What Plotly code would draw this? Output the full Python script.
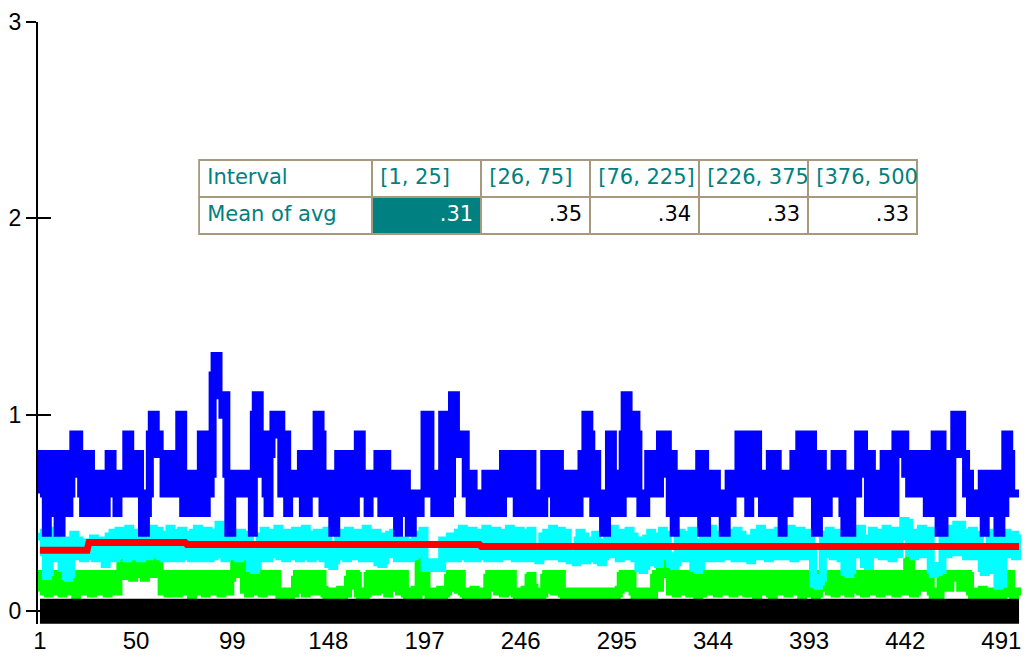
import plotly.graph_objects as go

# running values per sample (1..500)
avg_blue = [
    .6, .8, .7, .4, .5, .8, .7, .6, .8, .4,
    .4, .6, .8, .7, .5, .6, .8, .9, .8, .9,
    .7, .6, .5, .7, .8, .8, .6, .5, .5, .6,
    .7, .6, .7, .5, .6, .8, .8, .7, .6, .5,
    .6, .7, .7, .6, .9, .9, .8, .6, .7, .8,
    .8, .6, .4, .4, .5, .6, .9, 1.0, 1.0, .8,
    .9, .8, .8, .6, .7, .8, .6, .8, .7, .6,
    .7, 1.0, 1.0, .5, .7, .6, .5, .7, .6, .5,
    .6, .7, .9, .9, .5, .7, .6, .7, 1.2, 1.3,
    1.3, 1.1, 1.1, 1.0, 1.1, .7, .4, .4, .6, .7,
    .7, .6, .7, .6, .7, .6, .7, .6, .4, 1.0,
    1.1, 1.1, .7, .9, .8, .6, .5, .8, .9, 1.0,
    1.0, .9, 1.0, .6, .9, .9, .5, .7, .6, .7,
    .6, .7, .6, .8, .5, .8, .5, .8, .6, .6,
    .6, 1.0, 1.0, .9, .5, .7, .5, .7, .6, .4,
    .4, .6, .8, .5, .8, .7, .5, .8, .6, .8,
    .5, .8, .9, .9, .7, .6, .7, .5, .7, .6,
    .7, .6, .8, .8, .5, .8, .8, .6, .7, .5,
    .7, .6, .4, .6, .7, .6, .7, .5, .4, .4,
    .6, .5, .6, .5, .6, .6, 1.0, .9, 1.0, .6,
    .7, .5, .7, .6, .5, 1.0, .9, 1.0, .5, .6,
    1.1, 1.1, .8, .9, .9, .8, .9, .6, .7, .5,
    .7, .6, .5, .6, .5, .6, .5, .7, .6, .7,
    .5, .7, .6, .7, .6, .5, .8, .6, .8, .7,
    .8, .6, .8, .5, .8, .7, .8, .5, .8, .6,
    .8, .6, .5, .6, .5, .6, .5, .8, .6, .8,
    .6, .7, .5, .8, .8, .6, .7, .5, .7, .6,
    .7, .5, .7, .6, .5, .7, .8, .6, 1.0, 1.0,
    .9, .8, .5, .8, .6, .5, .6, .4, .4, .6,
    .9, .9, .7, .5, .7, .6, .5, .9, 1.1, 1.1,
    .8, .6, 1.0, 1.0, .9, .6, .5, .6, .5, .6,
    .8, .7, .8, .6, .8, .6, .9, .7, .9, .9,
    .8, .5, .8, .4, .7, .5, .7, .6, .5, .7,
    .6, .5, .7, .5, .6, .7, .8, .4, .8, .4,
    .6, .5, .7, .6, .7, .5, .6, .5, .4, .4,
    .6, .7, .5, .7, .6, .7, .9, .8, .9, .6,
    .7, .5, .7, .9, .9, .9, .6, .7, .5, .7,
    .6, .7, .8, .5, .8, .8, .5, .7, .4, .6,
    .7, .5, .7, .6, .8, .6, .8, .9, .9, .6,
    .8, .6, .9, .9, .8, .4, .4, .8, .8, .6,
    .7, .5, .7, .6, .7, .8, .8, .6, .8, .5,
    .4, .7, .4, .4, .6, .7, .6, .9, .9, .9,
    .7, .8, .5, .8, .6, .7, .5, .7, .6, .7,
    .8, .5, .8, .6, .7, .5, .9, .9, .9, .8,
    .9, .7, .8, .6, .8, .7, .6, .7, .8, .8,
    .8, .6, .5, .7, .5, .8, .9, .9, .4, .9,
    .4, .8, .6, .8, .5, .8, 1.0, 1.0, .9, 1.0,
    .8, .8, .6, .7, .5, .6, .5, .6, .6, .5,
    .7, .4, .7, .6, .5, .6, .7, .7, .4, .4,
    .6, .5, .9, .9, .8, .6, .6, .6, .6, .6,
]

avg_cyan = [
    .40, .38, .30, .18, .20, .36, .41, .29, .38, .27,
    .30, .22, .36, .18, .17, .19, .33, .39, .28, .36,
    .31, .35, .27, .34, .28, .35, .29, .37, .27, .35,
    .30, .36, .28, .24, .33, .38, .29, .40, .27, .37,
    .41, .29, .40, .30, .27, .42, .37, .28, .40, .31,
    .38, .27, .41, .30, .40, .28, .38, .42, .29, .39,
    .41, .28, .37, .27, .39, .30, .42, .27, .36, .40,
    .38, .27, .41, .31, .28, .39, .30, .27, .40, .29,
    .42, .30, .27, .39, .29, .41, .27, .37, .28, .40,
    .36, .44, .29, .38, .27, .40, .30, .28, .39, .29,
    .37, .27, .40, .30, .39, .28, .36, .22, .24, .21,
    .23, .30, .38, .27, .41, .31, .27, .39, .29, .40,
    .36, .42, .28, .38, .30, .27, .40, .29, .38, .28,
    .41, .30, .27, .39, .29, .42, .28, .37, .27, .39,
    .31, .40, .28, .38, .27, .36, .41, .24, .25, .23,
    .26, .30, .39, .28, .40, .31, .27, .41, .30, .28,
    .39, .28, .40, .30, .27, .38, .42, .29, .37, .27,
    .36, .40, .25, .27, .24, .26, .38, .29, .39, .30,
    .40, .29, .27, .28, .27, .36, .28, .33, .27, .35,
    .28, .37, .29, .39, .30, .41, .22, .24, .23, .22,
    .25, .22, .24, .23, .22, .36, .28, .33, .27, .38,
    .28, .35, .27, .40, .30, .42, .28, .39, .27, .37,
    .41, .29, .27, .38, .30, .40, .28, .42, .27, .37,
    .39, .28, .41, .27, .37, .30, .40, .28, .38, .42,
    .29, .39, .27, .36, .41, .30, .38, .27, .40, .31,
    .41, .29, .27, .29, .26, .28, .38, .30, .40, .28,
    .37, .42, .28, .39, .30, .41, .27, .36, .40, .29,
    .26, .28, .27, .25, .36, .40, .29, .38, .26, .28,
    .27, .36, .29, .39, .26, .27, .25, .28, .35, .40,
    .29, .38, .42, .30, .37, .27, .40, .31, .39, .28,
    .41, .29, .38, .27, .36, .22, .24, .21, .23, .37,
    .29, .40, .36, .25, .27, .24, .38, .41, .30, .39,
    .28, .24, .26, .23, .25, .37, .40, .29, .38, .27,
    .39, .30, .41, .22, .24, .21, .23, .35, .40, .29,
    .38, .27, .42, .31, .28, .39, .27, .37, .41, .30,
    .28, .40, .31, .38, .27, .41, .30, .39, .27, .37,
    .27, .29, .26, .28, .40, .30, .38, .42, .28, .39,
    .36, .27, .40, .29, .38, .28, .41, .37, .30, .39,
    .28, .38, .42, .30, .27, .39, .29, .41, .37, .28,
    .40, .28, .38, .30, .14, .16, .13, .15, .17, .36,
    .39, .29, .41, .37, .28, .40, .30, .38, .27, .36,
    .20, .23, .19, .21, .36, .40, .29, .38, .42, .30,
    .24, .26, .23, .37, .41, .29, .39, .30, .40, .28,
    .38, .42, .30, .39, .27, .37, .41, .29, .38, .40,
    .46, .44, .45, .30, .39, .28, .40, .30, .38, .42,
    .29, .39, .31, .41, .21, .19, .22, .20, .23, .21,
    .37, .40, .29, .38, .42, .30, .39, .44, .43, .44,
    .30, .40, .28, .38, .29, .41, .37, .28, .39, .30,
    .22, .20, .23, .21, .38, .29, .40, .30, .13, .15,
    .14, .36, .40, .29, .38, .30, .39, .28, .37, .35,
]

avg_green = [
    .10, .19, .12, .18, .09, .16, .19, .11, .17, .10,
    .18, .09, .15, .19, .10, .17, .12, .19, .08, .16,
    .19, .11, .18, .10, .16, .19, .09, .17, .12, .19,
    .10, .18, .15, .19, .09, .17, .11, .19, .16, .10,
    .19, .24, .18, .25, .21, .19, .25, .17, .24, .20,
    .25, .19, .23, .17, .25, .21, .24, .19, .26, .27,
    .27, .19, .10, .17, .19, .09, .16, .18, .11, .19,
    .09, .18, .12, .19, .10, .16, .19, .08, .17, .11,
    .19, .10, .17, .19, .09, .15, .19, .11, .18, .10,
    .16, .19, .09, .18, .12, .19, .10, .17, .19, .26,
    .27, .25, .26, .19, .11, .18, .09, .17, .19, .10,
    .18, .12, .19, .09, .16, .19, .11, .18, .10, .17,
    .19, .10, .08, .09, .08, .10, .09, .08, .10, .09,
    .16, .19, .11, .18, .19, .09, .17, .19, .12, .18,
    .10, .19, .16, .19, .11, .09, .08, .10, .08, .09,
    .10, .08, .09, .11, .08, .10, .09, .16, .19, .13,
    .19, .18, .09, .08, .10, .08, .09, .18, .19, .12,
    .19, .10, .17, .19, .11, .18, .19, .09, .16, .19,
    .12, .18, .19, .10, .17, .19, .09, .08, .10, .08,
    .09, .11, .08, .26, .27, .25, .20, .10, .08, .09,
    .08, .10, .09, .08, .11, .08, .09, .10, .17, .19,
    .12, .19, .18, .11, .19, .10, .09, .08, .10, .08,
    .09, .11, .08, .10, .09, .08, .10, .08, .17, .19,
    .12, .19, .18, .10, .19, .16, .09, .19, .12, .18,
    .19, .10, .09, .08, .10, .08, .09, .11, .08, .17,
    .18, .12, .09, .08, .10, .08, .09, .17, .19, .11,
    .19, .18, .10, .19, .16, .19, .09, .08, .10, .08,
    .09, .08, .10, .08, .09, .08, .10, .08, .09, .08,
    .10, .08, .09, .08, .10, .08, .09, .08, .10, .08,
    .09, .08, .10, .08, .09, .11, .18, .19, .12, .19,
    .17, .19, .10, .08, .09, .08, .10, .08, .09, .08,
    .10, .09, .08, .17, .19, .12, .25, .27, .26, .24,
    .19, .10, .17, .19, .09, .18, .12, .19, .10, .16,
    .19, .09, .18, .11, .19, .08, .10, .09, .17, .19,
    .12, .19, .10, .18, .19, .09, .16, .19, .11, .18,
    .10, .19, .17, .09, .19, .12, .18, .10, .19, .16,
    .09, .18, .19, .11, .10, .08, .17, .19, .10, .18,
    .19, .12, .09, .08, .18, .19, .11, .19, .10, .17,
    .19, .09, .18, .12, .19, .10, .17, .19, .08, .16,
    .19, .11, .18, .09, .10, .08, .09, .16, .19, .12,
    .18, .19, .10, .17, .19, .09, .18, .12, .19, .10,
    .16, .19, .09, .18, .19, .11, .17, .19, .10, .18,
    .09, .19, .12, .18, .19, .10, .17, .19, .09, .16,
    .19, .11, .18, .10, .19, .16, .09, .19, .12, .18,
    .10, .19, .25, .26, .17, .09, .10, .19, .18, .19,
    .12, .19, .17, .19, .10, .08, .09, .10, .08, .16,
    .19, .18, .19, .12, .19, .17, .19, .18, .19, .12,
    .19, .17, .19, .18, .10, .08, .09, .10, .08, .09,
    .11, .08, .09, .10, .08, .09, .10, .08, .09, .10,
    .08, .17, .19, .18, .19, .09, .08, .10, .09, .08,
]

# interval means shown in the table and drawn as the red step line
interval_starts = [1, 26, 76, 226, 376]
interval_ends = [25, 75, 225, 375, 500]
interval_means = [0.31, 0.35, 0.34, 0.33, 0.33]

x_ticks = [1, 50, 99, 148, 197, 246, 295, 344, 393, 442, 491]
y_ticks = [0, 1, 2, 3]

samples = list(range(1, len(avg_blue) + 1))
baseline = [0] * len(samples)

red_x, red_y = [], []
for s, e, m in zip(interval_starts, interval_ends, interval_means):
    red_x += [s, e]
    red_y += [m, m]

# non-breaking space so the table clips the label instead of wrapping it
interval_labels = [f"[{s},\u00a0{e}]" for s, e in zip(interval_starts, interval_ends)]
mean_labels = [f"{m:.2f}".lstrip("0") for m in interval_means]

TEAL = "#008080"
FONT = "Liberation Sans, Arial, sans-serif"
TABLE_FONT = "DejaVu Sans, Verdana, sans-serif"

fig = go.Figure()

fig.add_trace(go.Scatter(x=samples, y=avg_green, mode="lines", line_shape="hv",
                         line=dict(color="#00ff00", width=8)))
fig.add_trace(go.Scatter(x=samples, y=avg_cyan, mode="lines", line_shape="hv",
                         line=dict(color="#00ffff", width=8)))
fig.add_trace(go.Scatter(x=samples, y=avg_blue, mode="lines", line_shape="hv",
                         line=dict(color="#0000ff", width=8)))
fig.add_trace(go.Scatter(x=red_x, y=red_y, mode="lines",
                         line=dict(color="#ff0000", width=7)))
fig.add_trace(go.Scatter(x=samples, y=baseline, mode="lines", yaxis="y2",
                         line=dict(color="black", width=25)))

n_cols = len(interval_labels)
fig.add_trace(go.Table(
    domain=dict(x=[0.164, 0.895], y=[0.638, 0.771]),
    columnwidth=[173] + [109] * n_cols,
    header=dict(
        values=["Interval"] + interval_labels,
        fill_color="white",
        font=dict(color=TEAL, size=21, family=TABLE_FONT),
        align="left",
        height=37,
        line=dict(color="#a8987c", width=2),
    ),
    cells=dict(
        values=[["Mean\u00a0of\u00a0avg"]] + [[v] for v in mean_labels],
        fill_color=["white", TEAL] + ["white"] * (n_cols - 1),
        font=dict(color=[TEAL, "white"] + ["black"] * (n_cols - 1),
                  size=21, family=TABLE_FONT),
        align=["left"] + ["right"] * n_cols,
        height=37,
        line=dict(color="#a8987c", width=2),
    ),
))

# the page body adds an 8px margin, so the figure starts 8px in from the corner
fig.update_layout(
    width=1021,
    height=654,
    margin=dict(l=30, r=8, t=14, b=38),
    paper_bgcolor="white",
    plot_bgcolor="white",
    showlegend=False,
    font=dict(family=FONT, color="black"),
    xaxis=dict(
        range=[0, 501],
        tickvals=x_ticks,
        ticks="",
        tickfont=dict(size=24),
        ticklabeloverflow="allow",
        showgrid=False,
        zeroline=False,
        showline=False,
        automargin=False,
    ),
    yaxis=dict(
        range=[-0.065, 3.0],
        tickvals=y_ticks,
        ticks="outside",
        ticklen=10,
        tickwidth=2,
        tickcolor="black",
        tickfont=dict(size=23),
        ticklabeloverflow="allow",
        showgrid=False,
        zeroline=False,
        showline=True,
        linecolor="black",
        linewidth=2,
        automargin=False,
    ),
    yaxis2=dict(
        range=[-0.065, 3.0],
        overlaying="y",
        side="left",
        anchor="x",
        tickvals=y_ticks,
        ticks="inside",
        ticklen=13,
        tickwidth=2,
        tickcolor="black",
        showticklabels=False,
        showgrid=False,
        zeroline=False,
        showline=False,
        automargin=False,
    ),
)

fig.write_html("out.html")
